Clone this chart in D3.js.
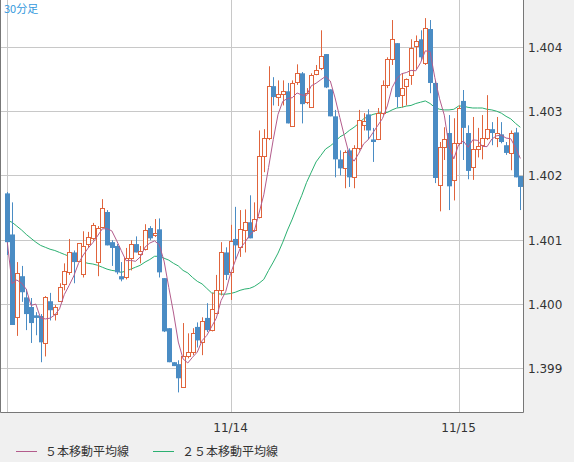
<!DOCTYPE html>
<html><head><meta charset="utf-8">
<script src="https://cdn.jsdelivr.net/npm/d3@7"></script>
<style>body{margin:0;background:#f0f0f0;}svg{display:block;font-family:"DejaVu Sans",sans-serif;}</style>
</head><body><svg id="c" width="574" height="462"></svg>
<script>
const opens=[1.40172,1.40108,1.39979,1.40043,1.40010,1.39995,1.39982,1.39981,1.39939,1.40004,1.39984,1.40004,1.40031,1.40049,1.40080,1.40066,1.40046,1.40093,1.40102,1.40065,1.40119,1.40143,1.40096,1.40090,1.40043,1.40041,1.40071,1.40093,1.40079,1.40085,1.40118,1.40107,1.40116,1.40040,1.39962,1.39909,1.39906,1.39870,1.39918,1.39925,1.39964,1.39940,1.39978,1.39960,1.39985,1.40021,1.40080,1.40049,1.40101,1.40088,1.40115,1.40127,1.40115,1.40135,1.40230,1.40258,1.40339,1.40322,1.40327,1.40331,1.40277,1.40345,1.40359,1.40314,1.40306,1.40358,1.40367,1.40389,1.40334,1.40292,1.40225,1.40211,1.40239,1.40197,1.40242,1.40278,1.40295,1.40256,1.40256,1.40297,1.40341,1.40381,1.40406,1.40325,1.40339,1.40356,1.40401,1.40412,1.40375,1.40428,1.40344,1.40185,1.40244,1.40266,1.40193,1.40250,1.40316,1.40266,1.40213,1.40242,1.40247,1.40258,1.40272,1.40258,1.40264,1.40247,1.40235,1.40267,1.40199];
const closes=[1.40096,1.39967,1.40048,1.40018,1.39984,1.39970,1.39978,1.39940,1.40010,1.39990,1.39995,1.40026,1.40051,1.40080,1.40065,1.40094,1.40090,1.40104,1.40123,1.40118,1.40149,1.40091,1.40087,1.40049,1.40038,1.40071,1.40093,1.40080,1.40083,1.40115,1.40102,1.40110,1.40049,1.39957,1.39909,1.39903,1.39884,1.39918,1.39925,1.39954,1.39943,1.39973,1.39959,1.39992,1.40021,1.40080,1.40045,1.40098,1.40091,1.40116,1.40127,1.40102,1.40132,1.40230,1.40258,1.40339,1.40322,1.40327,1.40331,1.40281,1.40344,1.40359,1.40311,1.40328,1.40356,1.40364,1.40386,1.40337,1.40292,1.40225,1.40211,1.40236,1.40197,1.40242,1.40286,1.40284,1.40270,1.40252,1.40297,1.40341,1.40381,1.40412,1.40322,1.40336,1.40350,1.40398,1.40409,1.40384,1.40429,1.40344,1.40196,1.40244,1.40256,1.40183,1.40250,1.40305,1.40274,1.40207,1.40241,1.40246,1.40258,1.40272,1.40266,1.40266,1.40252,1.40235,1.40266,1.40197,1.40182];
const highs=[1.40174,1.40158,1.40065,1.40059,1.40023,1.40009,1.39987,1.39984,1.40012,1.40017,1.39998,1.40032,1.40063,1.40101,1.40083,1.40094,1.40113,1.40112,1.40126,1.40121,1.40163,1.40146,1.40099,1.40093,1.40065,1.40087,1.40099,1.40105,1.40090,1.40124,1.40121,1.40132,1.40133,1.40040,1.39962,1.39909,1.39912,1.39970,1.39954,1.39962,1.39971,1.39979,1.40001,1.40017,1.40045,1.40096,1.40088,1.40123,1.40151,1.40146,1.40147,1.40169,1.40158,1.40270,1.40272,1.40370,1.40353,1.40348,1.40348,1.40344,1.40348,1.40373,1.40361,1.40336,1.40359,1.40372,1.40426,1.40389,1.40334,1.40302,1.40239,1.40239,1.40242,1.40247,1.40302,1.40297,1.40303,1.40274,1.40305,1.40348,1.40384,1.40442,1.40406,1.40359,1.40351,1.40412,1.40418,1.40426,1.40445,1.40442,1.40348,1.40252,1.40275,1.40294,1.40289,1.40309,1.40333,1.40278,1.40291,1.40274,1.40294,1.40325,1.40283,1.40291,1.40283,1.40252,1.40270,1.40274,1.40199];
const lows=[1.40076,1.39967,1.39950,1.40003,1.39959,1.39939,1.39951,1.39909,1.39918,1.39974,1.39974,1.40003,1.40021,1.40045,1.40032,1.40065,1.40041,1.40087,1.40099,1.40043,1.40118,1.40091,1.40059,1.40046,1.40035,1.40038,1.40052,1.40080,1.40063,1.40083,1.40099,1.40104,1.40041,1.39956,1.39909,1.39903,1.39862,1.39869,1.39915,1.39920,1.39932,1.39920,1.39956,1.39957,1.39985,1.40013,1.40037,1.40006,1.40068,1.40073,1.40080,1.40102,1.40112,1.40133,1.40205,1.40255,1.40309,1.40308,1.40309,1.40281,1.40277,1.40341,1.40281,1.40311,1.40305,1.40356,1.40364,1.40336,1.40292,1.40197,1.40200,1.40180,1.40182,1.40180,1.40239,1.40270,1.40256,1.40221,1.40255,1.40294,1.40336,1.40372,1.40306,1.40306,1.40309,1.40341,1.40364,1.40379,1.40372,1.40328,1.40188,1.40144,1.40224,1.40146,1.40161,1.40247,1.40224,1.40194,1.40193,1.40228,1.40225,1.40255,1.40247,1.40244,1.40250,1.40232,1.40208,1.40197,1.40146];
const ma25=[1.40130,1.40127,1.40121,1.40115,1.40108,1.40102,1.40096,1.40091,1.40088,1.40085,1.40083,1.40080,1.40077,1.40074,1.40071,1.40068,1.40065,1.40063,1.40062,1.40060,1.40057,1.40054,1.40052,1.40051,1.40049,1.40051,1.40054,1.40057,1.40060,1.40065,1.40069,1.40074,1.40074,1.40071,1.40068,1.40063,1.40059,1.40052,1.40048,1.40041,1.40035,1.40031,1.40024,1.40017,1.40016,1.40015,1.40015,1.40016,1.40018,1.40021,1.40023,1.40024,1.40027,1.40032,1.40038,1.40052,1.40065,1.40079,1.40096,1.40115,1.40132,1.40151,1.40169,1.40189,1.40205,1.40221,1.40231,1.40241,1.40246,1.40252,1.40260,1.40264,1.40270,1.40275,1.40281,1.40288,1.40292,1.40295,1.40297,1.40298,1.40298,1.40302,1.40305,1.40306,1.40308,1.40309,1.40312,1.40314,1.40316,1.40312,1.40306,1.40303,1.40302,1.40302,1.40303,1.40308,1.40308,1.40306,1.40305,1.40305,1.40305,1.40303,1.40302,1.40300,1.40297,1.40292,1.40288,1.40281,1.40275];
const yTicks=[1.399,1.400,1.401,1.402,1.403,1.404];
const xLabels=[{i:47,t:"11/14"},{i:95,t:"11/15"}];
const dayLines=[0,47,95];

const n=opens.length;
const svg=d3.select("#c");
const L=0,R=523,T=0,B=412;
const x=d3.scaleLinear().domain([0,108]).range([7.3,520.3]);
const y=d3.scaleLinear().domain([1.399,1.404]).range([368,47]);
svg.append("rect").attr("x",L).attr("y",T).attr("width",R-L).attr("height",B-T).attr("fill","#fff");
const g=svg.append("g");
yTicks.forEach(v=>g.append("line").attr("x1",L).attr("x2",R).attr("y1",Math.round(y(v))+0.5).attr("y2",Math.round(y(v))+0.5).attr("stroke","#c8c8c8"));
dayLines.forEach(i=>g.append("line").attr("x1",Math.round(x(i))+0.5).attr("x2",Math.round(x(i))+0.5).attr("y1",T).attr("y2",B).attr("stroke","#c8c8c8"));
const ma5=closes.map((c,i)=>d3.mean(closes.slice(Math.max(0,i-4),i+1)));
const line=d3.line().x((d,i)=>x(i)).y(d=>y(d)).curve(d3.curveStepAfter);
const lineS=d3.line().x((d,i)=>x(i)).y(d=>y(d));
g.append("path").attr("d",lineS(ma25)).attr("fill","none").attr("stroke","#2bb071").attr("stroke-width",1);
for(let i=0;i<n;i++){
  const up=closes[i]>=opens[i];
  const cx=Math.round(x(i))+0.5;
  const col=up?"#e0643c":"#4a8cc4";
  const top=y(Math.max(opens[i],closes[i])),bot=y(Math.min(opens[i],closes[i]));
  g.append("line").attr("x1",cx).attr("x2",cx).attr("y1",y(highs[i])).attr("y2",y(lows[i])).attr("stroke",col);
  if(up) g.append("rect").attr("x",cx-2).attr("y",Math.round(top)+0.5).attr("width",4).attr("height",Math.max(1,Math.round(bot-top))).attr("fill","#fff").attr("stroke",col);
  else g.append("rect").attr("x",cx-2.5).attr("y",top).attr("width",5).attr("height",Math.max(1.5,bot-top)).attr("fill",col);
}
g.append("path").attr("d",lineS(ma5)).attr("fill","none").attr("stroke","#b35c8c").attr("stroke-width",1);
svg.append("path").attr("d",`M${R+0.5},0V${B+0.5}H0.5V0`).attr("fill","none").attr("stroke","#777");
yTicks.forEach(v=>svg.append("text").attr("x",528).attr("y",y(v)+5).attr("font-size",12).attr("fill","#333").text(v.toFixed(3)));
xLabels.forEach(d=>svg.append("text").attr("x",x(d.i)).attr("y",432).attr("text-anchor","middle").attr("font-size",12).attr("fill","#333").text(d.t));
svg.append("text").attr("x",4).attr("y",13).attr("font-size",11).attr("fill","#3399dd").attr("font-family","'Noto Sans CJK JP',sans-serif").text("30分足");
const leg=[{c:"#b35c8c",t:"５本移動平均線",x:16},{c:"#2bb071",t:"２５本移動平均線",x:153}];
leg.forEach(d=>{svg.append("line").attr("x1",d.x).attr("x2",d.x+21).attr("y1",451.5).attr("y2",451.5).attr("stroke",d.c);
svg.append("text").attr("x",d.x+29).attr("y",456).attr("font-size",12).attr("fill","#333").attr("font-family","'Noto Sans CJK JP',sans-serif").text(d.t);});
</script></body></html>
